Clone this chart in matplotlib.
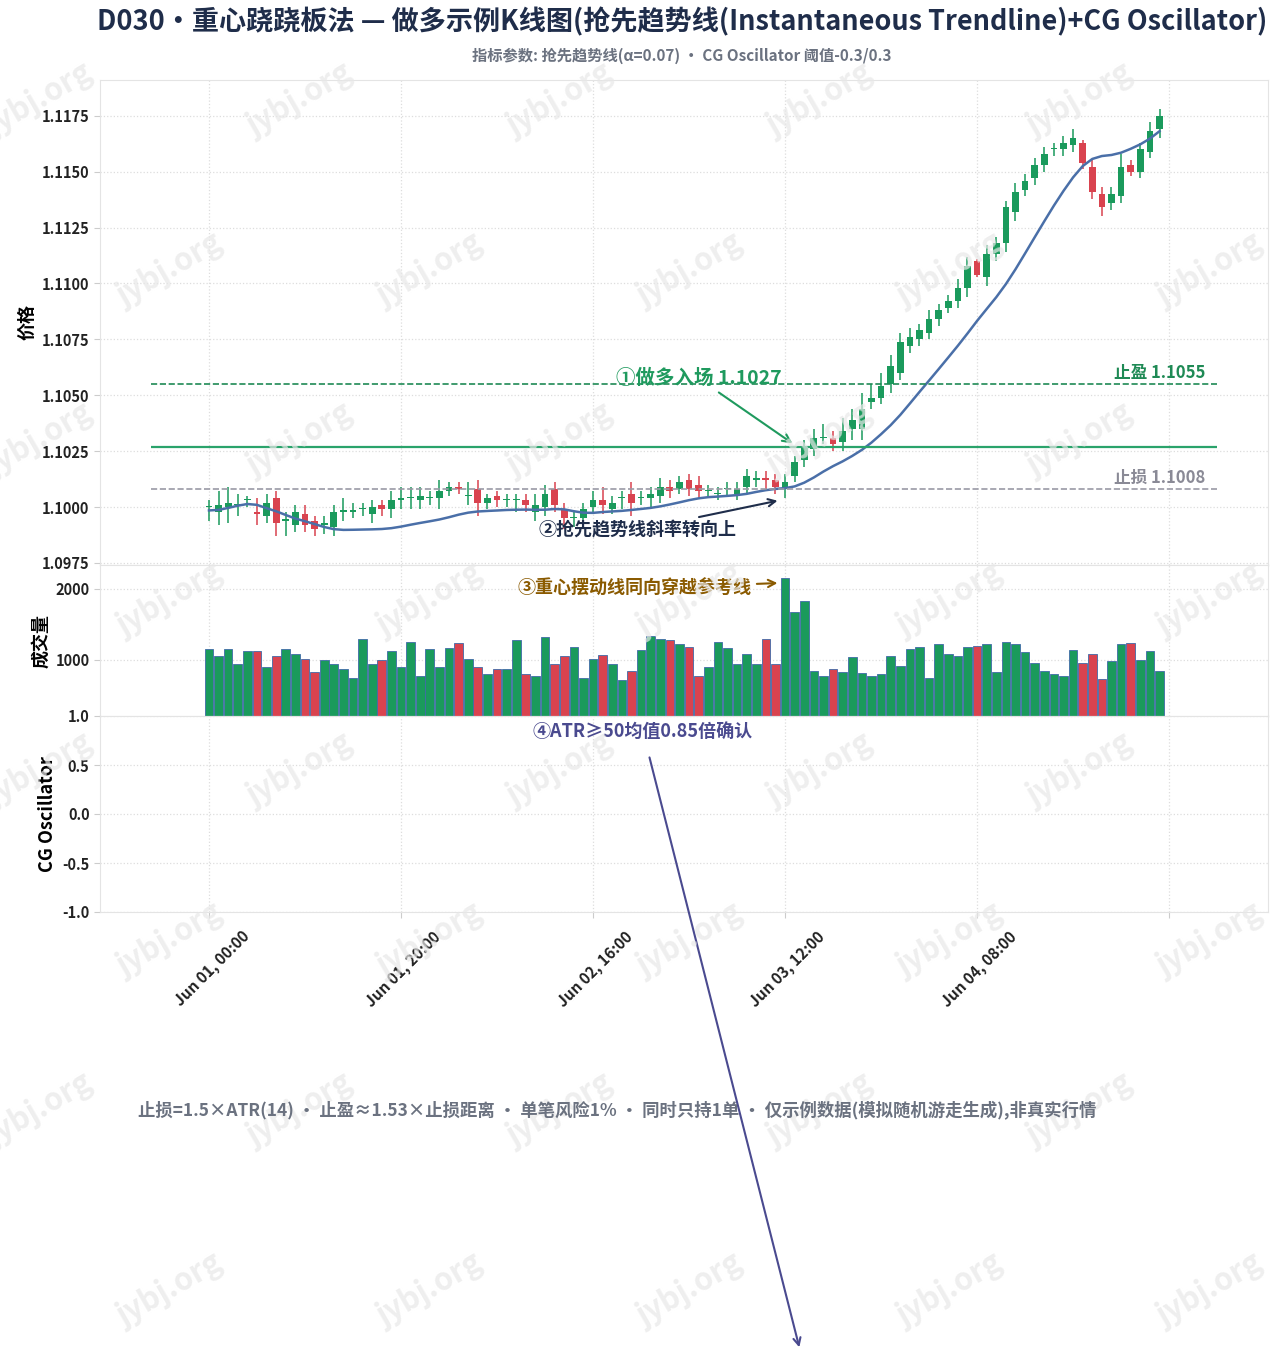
import matplotlib
matplotlib.use("Agg")
import matplotlib.pyplot as plt
import matplotlib.transforms as mtransforms
import numpy as np

plt.rcParams['font.family'] = ['Noto Sans CJK SC', 'DejaVu Sans']

opens = [1.1000,1.0998,1.1000,1.1001,1.1003,1.0998,1.0996,1.1004,1.0994,1.0992,
         1.0997,1.0994,1.0992,1.0991,1.0998,1.0998,1.0999,1.0997,1.1001,1.0999,
         1.1003,1.1004,1.1003,1.1004,1.1004,1.1007,1.1009,1.1005,1.1008,1.1002,
         1.1005,1.1003,1.1003,1.1003,1.0998,1.1000,1.1008,1.0999,1.0995,1.0995,
         1.1000,1.1003,1.0999,1.1004,1.1006,1.1004,1.1004,1.1005,1.1009,1.1008,
         1.1012,1.1010,1.1007,1.1006,1.1008,1.1006,1.1009,1.1012,1.1013,1.1012,
         1.1008,1.1014,1.1021,1.1026,1.1031,1.1031,1.1029,1.1035,1.1035,1.1047,
         1.1049,1.1055,1.1060,1.1072,1.1075,1.1078,1.1084,1.1089,1.1092,1.1098,
         1.1110,1.1103,1.1113,1.1118,1.1132,1.1142,1.1147,1.1153,1.1160,1.1160,
         1.1162,1.1163,1.1152,1.1140,1.1136,1.1139,1.1153,1.1150,1.1159,1.1169]
closes = [1.1000,1.1001,1.1002,1.1001,1.1003,1.0997,1.1002,1.0993,1.0994,1.0998,
          1.0992,1.0990,1.0993,1.0998,1.0998,1.0998,1.0999,1.1000,1.0999,1.1003,
          1.1004,1.1004,1.1005,1.1004,1.1007,1.1009,1.1008,1.1005,1.1002,1.1004,
          1.1003,1.1003,1.1003,1.1001,1.1001,1.1006,1.1001,1.0995,1.0995,1.0999,
          1.1003,1.1001,1.1002,1.1004,1.1002,1.1004,1.1006,1.1009,1.1007,1.1011,
          1.1008,1.1007,1.1007,1.1006,1.1008,1.1008,1.1014,1.1013,1.1012,1.1009,
          1.1011,1.1020,1.1027,1.1031,1.1031,1.1028,1.1034,1.1039,1.1044,1.1049,
          1.1054,1.1063,1.1074,1.1076,1.1079,1.1084,1.1088,1.1092,1.1098,1.1108,
          1.1104,1.1113,1.1118,1.1134,1.1141,1.1146,1.1153,1.1158,1.1160,1.1163,
          1.1165,1.1154,1.1141,1.1134,1.1140,1.1152,1.1150,1.1160,1.1168,1.1175]
# wick sizes in pips (1 pip = 0.0001)
upper_wick = [3,6,7,5,2,6,4,3,4,3,4,2,3,3,6,4,3,3,2,4,
              5,5,4,3,5,2,2,6,4,2,2,3,3,3,5,4,3,3,3,3,
              4,6,3,3,5,3,3,4,3,3,3,4,3,3,3,3,3,3,3,3,
              4,3,3,4,6,3,6,5,7,6,6,5,4,4,3,4,3,3,4,4,
              1,4,3,3,4,3,3,3,3,3,4,1,3,3,3,6,2,3,4,3]
lower_wick = [6,6,7,5,3,5,3,6,7,3,3,3,4,4,4,3,3,4,3,4,
              4,5,4,3,5,2,2,4,6,3,3,3,5,3,4,4,3,5,4,3,
              3,4,2,5,6,3,4,3,3,2,3,3,3,3,3,3,3,3,5,3,
              4,3,3,3,3,3,4,5,5,3,3,4,3,3,3,3,3,2,3,4,
              1,4,3,4,4,3,3,3,3,3,3,3,3,4,3,3,2,3,3,4]
volumes = [1150,1050,1150,950,1120,1130,900,1050,1160,1080,
           1020,830,1000,950,880,750,1300,950,1000,1120,
           900,1260,780,1150,900,1170,1240,1010,900,800,
           880,880,1280,800,770,1330,950,1050,1180,750,
           1010,1070,950,720,850,1140,1340,1300,1280,1220,
           1180,780,900,1260,1170,950,1090,950,1300,950,
           2150,1680,1830,850,780,880,830,1040,820,770,
           800,1050,920,1160,1180,750,1230,1080,1060,1180,
           1200,1230,830,1250,1220,1110,960,840,800,780,
           1140,960,1080,730,990,1220,1240,1000,1130,850]
tick_labels = ["Jun 01, 00:00", "Jun 01, 20:00", "Jun 02, 16:00", "Jun 03, 12:00", "Jun 04, 08:00", ""]
tick_hours = [0, 20, 40, 60, 80, 100]
entry, take_profit, stop_loss = 1.1027, 1.1055, 1.1008
alpha = 0.07

o = np.array(opens); c = np.array(closes)
h = np.maximum(o, c) + np.array(upper_wick) * 1e-4
l = np.minimum(o, c) - np.array(lower_wick) * 1e-4
x = np.arange(len(c))
p = (h + l) / 2
it = np.zeros_like(p)
a = alpha
for n in range(len(p)):
    if n < 7:
        it[n] = (p[n] + 2 * p[max(n-1, 0)] + p[max(n-2, 0)]) / 4
    else:
        it[n] = ((a - a*a/4) * p[n] + 0.5*a*a*p[n-1] - (a - 0.75*a*a) * p[n-2]
                 + 2*(1-a)*it[n-1] - (1-a)**2 * it[n-2])

GREEN = '#1a9a5c'; RED = '#d9434f'; BLUE = '#4a6fa8'
up = c >= o
cols = np.where(up, GREEN, RED)

W, H = 1281, 1360
fig = plt.figure(figsize=(W/100, H/100), dpi=100)
def ax_at(top, bot):
    return fig.add_axes([100/W, 1-bot/H, (1268-100)/W, (bot-top)/H])
ax1 = ax_at(80, 565); ax2 = ax_at(565, 716); ax3 = ax_at(716, 912)
xl = (-11.35, 110.3)
for ax in (ax1, ax2, ax3):
    ax.set_xlim(*xl)
    ax.grid(True, color='#dddddd', linestyle=':', linewidth=0.9)
    ax.set_axisbelow(True)
    for s in ax.spines.values():
        s.set_color('#e4e4e4')
    ax.tick_params(colors='#222222', labelsize=10.5, length=4, color='#cccccc')
    ax.set_xticks(tick_hours)
for ax in (ax1, ax2):
    ax.tick_params(labelbottom=False)

# candles
ax1.vlines(x, l, h, colors=cols, linewidth=1.1)
body = np.abs(c - o); body = np.maximum(body, 0.00005)
ax1.bar(x, body, bottom=np.minimum(o, c), width=0.7, color=cols, linewidth=0)
ax1.plot(x, it, color=BLUE, linewidth=1.8)
ax1.hlines(entry, -6, 105, colors='#2aa36b', linewidth=1.6)
ax1.hlines(take_profit, -6, 105, colors='#1f8a55', linewidth=1.2, linestyles='--')
ax1.hlines(stop_loss, -6, 105, colors='#9a9aa6', linewidth=1.2, linestyles='--')
ax1.text(103.8, take_profit + 0.0001, f'止盈 {take_profit:.4f}', ha='right', va='bottom', color='#1f8a55', fontsize=12, fontweight='bold')
ax1.text(103.8, stop_loss + 0.0001, f'止损 {stop_loss:.4f}', ha='right', va='bottom', color='#8a8a96', fontsize=12, fontweight='bold')
ax1.set_ylim(1.09741, 1.1191)
yt = np.arange(1.0975, 1.1180, 0.0025)
ax1.set_yticks(yt)
ax1.set_yticklabels([f'{v:.4f}' for v in yt], fontweight='bold')
ax1.set_ylabel('价格', fontsize=13, fontweight='bold')

ax1.annotate('①做多入场 1.1027', xy=(61, 1.10278), xytext=(51, 1.10575), ha='center', va='center',
             color='#1f9a5e', fontsize=14, fontweight='bold',
             arrowprops=dict(arrowstyle='->', color='#1f9a5e', lw=1.5))
ax1.annotate('②抢先趋势线斜率转向上', xy=(59.5, 1.10031), xytext=(44.6, 1.09898), ha='center', va='center',
             color='#1f2d4a', fontsize=13, fontweight='bold',
             arrowprops=dict(arrowstyle='->', color='#1f2d4a', lw=1.5))

ax2.bar(x, volumes, width=0.9, color=cols, edgecolor='#3f6aa8', linewidth=0.6)
ax2.set_ylim(211, 2338)
ax2.set_yticks([1000, 2000])
ax2.set_yticklabels(['1000', '2000'], fontweight='bold')
ax2.set_ylabel('成交量', fontsize=13, fontweight='bold')
ax2.annotate('③重心摆动线同向穿越参考线', xy=(59.5, 2085), xytext=(44.3, 2005), ha='center', va='center',
             color='#8a5a00', fontsize=13, fontweight='bold',
             arrowprops=dict(arrowstyle='->', color='#8a5a00', lw=1.5))

ax3.set_ylim(-1.0, 1.0)
ax3.set_yticks([-1.0, -0.5, 0.0, 0.5, 1.0])
ax3.set_yticklabels(['-1.0', '-0.5', '0.0', '0.5', '1.0'], fontweight='bold')
ax3.set_ylabel('CG Oscillator', fontsize=13, fontweight='bold')
ax3.set_xticklabels(tick_labels, rotation=45, ha='right', rotation_mode='anchor', fontweight='bold', fontsize=11)
shift = mtransforms.ScaledTranslation(32/100, -6/100, fig.dpi_scale_trans)
for t in ax3.get_xticklabels():
    t.set_transform(t.get_transform() + shift)
ax3.annotate('④ATR≥50均值0.85倍确认', xy=(800/W, 1-1350/H), xycoords='figure fraction',
             xytext=(45.2, 0.84), textcoords='data', ha='center', va='center',
             color='#4a4a8f', fontsize=13, fontweight='bold',
             arrowprops=dict(arrowstyle='->', color='#4a4a8f', lw=1.5, shrinkA=10))

fig.text(682/W, 1-22/H, 'D030・重心跷跷板法 — 做多示例K线图(抢先趋势线(Instantaneous Trendline)+CG Oscillator)',
         ha='center', va='center', fontsize=19.5, fontweight='bold', color='#1f2d4a')
fig.text(682/W, 1-56/H, '指标参数: 抢先趋势线(α=0.07) · CG Oscillator 阈值-0.3/0.3',
         ha='center', va='center', fontsize=11, fontweight='bold', color='#6b7280')
fig.text(617/W, 1-1110/H, '止损=1.5×ATR(14) · 止盈≈1.53×止损距离 · 单笔风险1% · 同时只持1单 · 仅示例数据(模拟随机游走生成),非真实行情',
         ha='center', va='center', fontsize=12.5, fontweight='bold', color='#6b7280')

for row, yy in enumerate([100, 270, 440, 600, 770, 940, 1110, 1290]):
    xs = [40, 300, 560, 820, 1080] if row % 2 == 0 else [170, 430, 690, 950, 1210]
    for xx in xs:
        fig.text(xx/W, 1-yy/H, 'jybj.org', rotation=30,
                 ha='center', va='center', fontsize=22, fontweight='bold', color='#e8e8e8', alpha=0.7, zorder=0)

fig.savefig('out.png', dpi=100)
